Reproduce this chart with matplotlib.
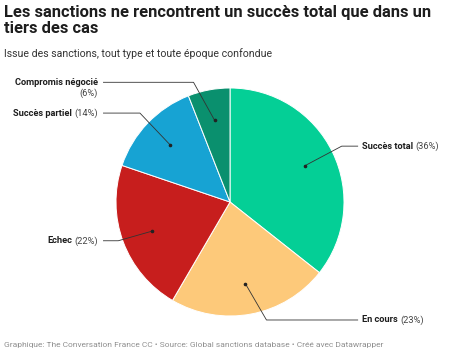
import numpy as np
import matplotlib
matplotlib.use("Agg")
import matplotlib.pyplot as plt

categories = ["Succès total", "En cours", "Echec", "Succès partiel", "Compromis négocié"]
values = [36, 23, 22, 14, 6]
colors = ["#04cf96", "#fdc97a", "#c71e1d", "#17a3d3", "#0a906e"]

plt.rcParams['font.family'] = ['Roboto', 'DejaVu Sans']

W, H = 460, 354
fig = plt.figure(figsize=(W/100, H/100), dpi=100)

def px(x, y):
    return (x / W, 1 - y / H)

cx, cy, R = 230, 202, 114
ax = fig.add_axes([(cx - R) / W, (H - cy - R) / H, 2 * R / W, 2 * R / H])
wedges, _ = ax.pie(values, colors=colors, startangle=90, counterclock=False,
                   radius=1, wedgeprops=dict(edgecolor="white", linewidth=0.7))
ax.set_xlim(-1, 1)
ax.set_ylim(-1, 1)
ax.set_aspect('equal')
ax.axis('off')

# label layout: (elbow x, elbow y, line end x, side)
layout = {
    "Succès total": (0.98, 0.49, 1.12, 'right'),
    "En cours": (0.32, -1.035, 1.12, 'right'),
    "Echec": (-0.98, -0.34, -1.11, 'left'),
    "Succès partiel": (-0.79, 0.78, -1.11, 'left'),
    "Compromis négocié": (-0.32, 1.05, -1.11, 'left'),
}

fs = 6.7
line_col = "#333333"
fig.canvas.draw()
renderer = fig.canvas.get_renderer()
for w, cat, v in zip(wedges, categories, values):
    mid = np.deg2rad((w.theta1 + w.theta2) / 2)
    dx, dy = 0.73 * np.cos(mid), 0.73 * np.sin(mid)
    ex, ey, lx, side = layout[cat]
    ax.plot([dx, ex, lx], [dy, ey, ey], color=line_col, lw=0.6, clip_on=False,
            solid_joinstyle='round')
    ax.plot([dx], [dy], 'o', color="#222222", ms=1.6, clip_on=False)
    pct = f"({v}%)"
    if side == 'right':
        tx = lx + 0.04
        t1 = ax.text(tx, ey, cat, fontsize=fs, fontweight='bold', color="#1d1d1d",
                     ha='left', va='center', clip_on=False)
        bb = t1.get_window_extent(renderer)
        x_disp = bb.x1 + 2.2
        xd = ax.transData.inverted().transform((x_disp, 0))[0]
        ax.text(xd, ey, pct, fontsize=fs, color="#444444", ha='left', va='center', clip_on=False)
    else:
        tx = lx - 0.05
        if cat == "Compromis négocié":
            ax.text(tx, ey, cat, fontsize=fs, fontweight='bold', color="#1d1d1d",
                    ha='right', va='center', clip_on=False)
            ax.text(tx, ey - 0.095, pct, fontsize=fs, color="#444444",
                    ha='right', va='center', clip_on=False)
        else:
            t2 = ax.text(tx, ey, pct, fontsize=fs, color="#444444", ha='right',
                         va='center', clip_on=False)
            bb = t2.get_window_extent(renderer)
            x_disp = bb.x0 - 2.2
            xd = ax.transData.inverted().transform((x_disp, 0))[0]
            ax.text(xd, ey, cat, fontsize=fs, fontweight='bold', color="#1d1d1d",
                    ha='right', va='center', clip_on=False)

fig.text(*px(4, 5), "Les sanctions ne rencontrent un succès total que dans un\ntiers des cas",
         fontsize=11.9, fontweight='bold', color="#1d1d1d", ha='left', va='top',
         linespacing=1.12)
fig.text(*px(4, 54), "Issue des sanctions, tout type et toute époque confondue",
         fontsize=7.6, color="#333333", ha='left', va='center')
fig.text(*px(4, 345), "Graphique: The Conversation France CC • Source: Global sanctions database • Créé avec Datawrapper",
         fontsize=6.0, color="#8f8f8f", ha='left', va='center')

fig.savefig("out.png", dpi=100)
